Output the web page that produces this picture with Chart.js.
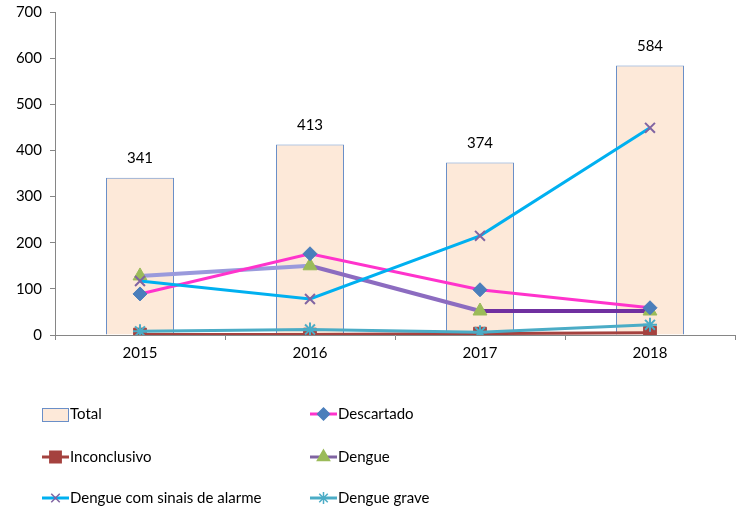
<!DOCTYPE html>
<html>
<head>
<meta charset="utf-8">
<script src="https://cdn.jsdelivr.net/npm/chart.js@4/dist/chart.umd.min.js"></script>
<style>
  html, body { margin: 0; padding: 0; background: #fff; }
  #wrap { width: 736px; height: 510px; }
</style>
</head>
<body>
<div id="wrap"><canvas id="chart" width="736" height="510"></canvas></div>
<script>
const years = ["2015", "2016", "2017", "2018"];
const total = [341, 413, 374, 584];
const descartado = [89, 176, 98, 59];
const inconclusivo = [1, 1, 3, 5];
const dengue = [128, 150, 52, 52];
const dengueAlarme = [117, 78, 215, 449];
const dengueGrave = [8, 12, 6, 22];
const yTicks = [0, 100, 200, 300, 400, 500, 600, 700];

const FONT = "Lato, 'Liberation Sans', sans-serif";

// legend drawn by hand: two columns, three rows
const legendItems = [
  { text: "Total", kind: "box", x: 42, y: 414 },
  { text: "Descartado", line: "#FF33CC", marker: "rectRot", mcolor: "#4A7EBB", r: 6, x: 310, y: 414 },
  { text: "Inconclusivo", line: "#A5423F", marker: "rect", mcolor: "#A5423F", r: 8, x: 42, y: 457 },
  { text: "Dengue", line: "#8064A2", marker: "triangle", mcolor: "#9BBB59", r: 7, x: 310, y: 457 },
  { text: "Dengue com sinais de alarme", line: "#00B0F0", marker: "crossRot", mcolor: "#8064A2", r: 6, x: 42, y: 498 },
  { text: "Dengue grave", line: "#4BACC6", marker: "star", mcolor: "#4BACC6", r: 6, x: 310, y: 498 }
];

const extras = {
  id: "extras",
  afterDatasetsDraw(chart) {
    const ctx = chart.ctx;
    const meta = chart.getDatasetMeta(0);
    ctx.save();
    ctx.font = "15px " + FONT;
    ctx.fillStyle = "#000";
    ctx.textAlign = "center";
    ctx.textBaseline = "middle";
    meta.data.forEach((bar, i) => {
      ctx.fillText(String(total[i]), bar.x, bar.y - 19);
    });
    ctx.restore();
  },
  afterDraw(chart) {
    const ctx = chart.ctx;
    ctx.save();
    ctx.font = "15px " + FONT;
    ctx.textBaseline = "middle";
    ctx.textAlign = "left";
    legendItems.forEach(it => {
      if (it.kind === "box") {
        ctx.fillStyle = "#FDE9D9";
        ctx.fillRect(it.x, it.y - 6, 26, 13);
        ctx.strokeStyle = "#6A8FC8";
        ctx.lineWidth = 1;
        ctx.strokeRect(it.x + 0.5, it.y - 6 + 0.5, 26, 13);
      } else {
        ctx.strokeStyle = it.line;
        ctx.lineWidth = 3;
        ctx.beginPath();
        ctx.moveTo(it.x, it.y);
        ctx.lineTo(it.x + 27, it.y);
        ctx.stroke();
        ctx.fillStyle = it.mcolor;
        ctx.strokeStyle = it.mcolor;
        ctx.lineWidth = 1.5;
        Chart.helpers.drawPoint(ctx, { pointStyle: it.marker, radius: it.r, rotation: 0, borderWidth: 1.5 }, it.x + 13.5, it.y);
      }
      ctx.fillStyle = "#000";
      ctx.fillText(it.text, it.x + 28, it.y);
    });
    ctx.restore();
  }
};

function lineSet(label, data, color, style, mcolor, radius, order) {
  return {
    type: "line",
    label: label,
    data: data,
    borderColor: color,
    borderWidth: 3,
    pointStyle: style,
    pointRadius: radius,
    pointBackgroundColor: mcolor,
    pointBorderColor: mcolor,
    pointBorderWidth: style === "crossRot" || style === "star" ? 2 : 1,
    tension: 0,
    order: order
  };
}

const dengueSet = lineSet("Dengue", dengue, "#8064A2", "triangle", "#9BBB59", 8, 4);
dengueSet.borderWidth = 4;
dengueSet.segment = {
  borderColor: c => ["#9A9ADC", "#8C6CC0", "#7030A0"][c.p0DataIndex]
};

new Chart(document.getElementById("chart"), {
  data: {
    labels: years,
    datasets: [
      {
        type: "bar",
        label: "Total",
        data: total,
        backgroundColor: "#FDE9D9",
        borderColor: "#6A8FC8",
        borderWidth: 1,
        categoryPercentage: 0.8,
        barPercentage: 0.5,
        order: 10
      },
      lineSet("Descartado", descartado, "#FF33CC", "rectRot", "#4A7EBB", 7, 3),
      lineSet("Inconclusivo", inconclusivo, "#A5423F", "rect", "#A5423F", 9, 6),
      dengueSet,
      lineSet("Dengue com sinais de alarme", dengueAlarme, "#00B0F0", "crossRot", "#8064A2", 7, 2),
      lineSet("Dengue grave", dengueGrave, "#4BACC6", "star", "#4BACC6", 7, 5)
    ]
  },
  options: {
    responsive: false,
    animation: false,
    layout: { autoPadding: false, padding: { top: 0, right: 1, bottom: 145, left: 0 } },
    plugins: {
      legend: { display: false },
      tooltip: { enabled: false }
    },
    scales: {
      x: {
        grid: { display: true, drawOnChartArea: false, offset: true, color: "#868686", tickLength: 5 },
        border: { color: "#868686" },
        ticks: { color: "#000", font: { family: FONT, size: 15 }, padding: 4 },
        afterFit: s => { s.height = 30; s.paddingRight = 0; s.paddingLeft = 0; }
      },
      y: {
        min: 0,
        max: 700,
        afterBuildTicks: s => { s.ticks = yTicks.map(v => ({ value: v })); },
        grid: { display: true, drawOnChartArea: false, color: "#868686", tickLength: 5 },
        border: { color: "#868686" },
        ticks: { color: "#000", font: { family: FONT, size: 15 }, padding: 8 },
        afterFit: s => { s.width = 55; s.paddingTop = 12; }
      }
    }
  },
  plugins: [extras]
});
</script>
</body>
</html>
